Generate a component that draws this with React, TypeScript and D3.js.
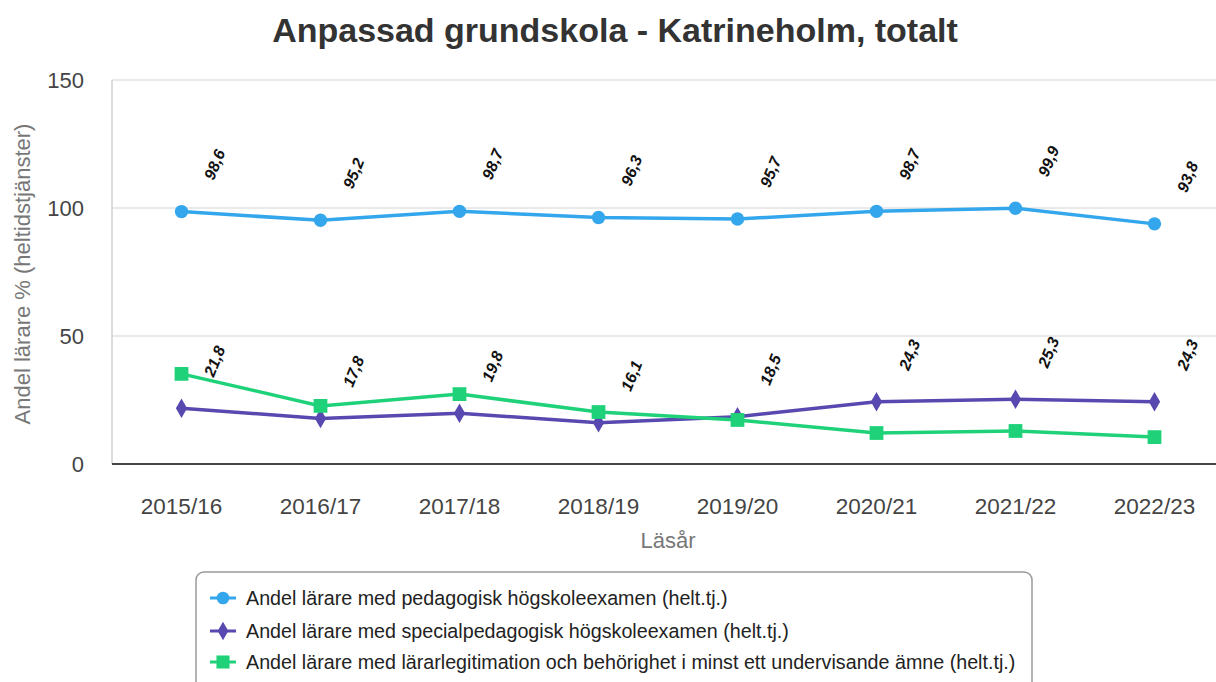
import React, { useEffect, useRef } from 'react';
import * as d3 from 'd3';

const years = ['2015/16', '2016/17', '2017/18', '2018/19', '2019/20', '2020/21', '2021/22', '2022/23'];
const pedagogisk = [98.6, 95.2, 98.7, 96.3, 95.7, 98.7, 99.9, 93.8];
const specialped = [21.8, 17.8, 19.8, 16.1, 18.5, 24.3, 25.3, 24.3];
const legitimation = [35.2, 22.7, 27.3, 20.3, 17.2, 12.1, 12.9, 10.5];
const yTicks = [0, 50, 100, 150];

const seriesNames = [
  'Andel lärare med pedagogisk högskoleexamen (helt.tj.)',
  'Andel lärare med specialpedagogisk högskoleexamen (helt.tj.)',
  'Andel lärare med lärarlegitimation och behörighet i minst ett undervisande ämne (helt.tj.)',
];

const font = '"Liberation Sans", Arial, sans-serif';

export default function App() {
  const ref = useRef<SVGSVGElement>(null);

  useEffect(() => {
    const width = 1216;
    const height = 682;
    const left = 112;
    const right = 1224;
    const top = 80;
    const bottom = 464;

    const series = [
      { name: seriesNames[0], values: pedagogisk, color: '#34a6ec', shape: d3.symbolCircle, size: 140, labels: true },
      { name: seriesNames[1], values: specialped, color: '#5849b0', shape: d3.symbolDiamond, size: 110, labels: true },
      { name: seriesNames[2], values: legitimation, color: '#1fd27a', shape: d3.symbolSquare, size: 190, labels: false },
    ];

    const svg = d3.select(ref.current);
    svg.selectAll('*').remove();
    svg.attr('width', width).attr('height', height);

    const x = d3.scalePoint<string>().domain(years).range([left, right]).padding(0.5);
    const y = d3.scaleLinear().domain([0, 150]).range([bottom, top]);

    // title
    svg
      .append('text')
      .attr('x', 615)
      .attr('y', 42)
      .attr('text-anchor', 'middle')
      .style('font-family', font)
      .style('font-weight', 'bold')
      .style('font-size', '34px')
      .style('fill', '#333')
      .text('Anpassad grundskola - Katrineholm, totalt');

    // grid
    svg
      .selectAll('line.grid')
      .data(yTicks.filter((t) => t > 0))
      .enter()
      .append('line')
      .attr('x1', left)
      .attr('x2', right)
      .attr('y1', (d) => y(d))
      .attr('y2', (d) => y(d))
      .style('stroke', '#e2e2e2')
      .style('stroke-width', 1.5);

    svg
      .append('line')
      .attr('x1', left)
      .attr('x2', left)
      .attr('y1', top)
      .attr('y2', bottom)
      .style('stroke', '#d0d0d0')
      .style('stroke-width', 1.5);

    svg
      .append('line')
      .attr('x1', left)
      .attr('x2', right)
      .attr('y1', bottom)
      .attr('y2', bottom)
      .style('stroke', '#444')
      .style('stroke-width', 2);

    // y ticks
    svg
      .selectAll('text.ytick')
      .data(yTicks)
      .enter()
      .append('text')
      .attr('x', 84)
      .attr('y', (d) => y(d) + 8)
      .attr('text-anchor', 'end')
      .style('font-family', font)
      .style('font-size', '22px')
      .style('fill', '#444')
      .text((d) => d);

    // x ticks
    svg
      .selectAll('text.xtick')
      .data(years)
      .enter()
      .append('text')
      .attr('x', (d) => x(d)!)
      .attr('y', 514)
      .attr('text-anchor', 'middle')
      .style('font-family', font)
      .style('font-size', '22.5px')
      .style('fill', '#444')
      .text((d) => d);

    svg
      .append('text')
      .attr('x', 668)
      .attr('y', 548)
      .attr('text-anchor', 'middle')
      .style('font-family', font)
      .style('font-size', '22px')
      .style('fill', '#777')
      .text('Läsår');

    svg
      .append('text')
      .attr('transform', `translate(30,${(top + bottom) / 2 + 2}) rotate(-90)`)
      .attr('text-anchor', 'middle')
      .style('font-family', font)
      .style('font-size', '22px')
      .style('fill', '#777')
      .text('Andel lärare % (heltidstjänster)');

    const line = d3
      .line<number>()
      .x((d, i) => x(years[i])!)
      .y((d) => y(d));

    series.forEach((s) => {
      const g = svg.append('g');
      g.append('path')
        .attr('d', line(s.values))
        .style('fill', 'none')
        .style('stroke', s.color)
        .style('stroke-width', 3.5);

      const sym = d3.symbol().type(s.shape).size(s.size);
      g.selectAll('path.pt')
        .data(s.values)
        .enter()
        .append('path')
        .attr('d', sym)
        .attr('transform', (d, i) => `translate(${x(years[i])},${y(d)})`)
        .style('fill', s.color);

      if (s.labels) {
        g.selectAll('text.lbl')
          .data(s.values)
          .enter()
          .append('text')
          .attr('transform', (d, i) => `translate(${x(years[i])! + 33},${y(d) - 47}) rotate(-68)`)
          .attr('text-anchor', 'middle')
          .attr('dy', '0.35em')
          .style('font-family', font)
          .style('font-weight', 'bold')
          .style('font-style', 'italic')
          .style('font-size', '16px')
          .style('fill', '#111')
          .text((d) => d3.format('.1f')(d).replace('.', ','));
      }
    });

    // legend
    svg
      .append('rect')
      .attr('x', 196)
      .attr('y', 572)
      .attr('width', 836)
      .attr('height', 130)
      .attr('rx', 8)
      .style('fill', 'white')
      .style('stroke', '#999')
      .style('stroke-width', 1.5);

    const legendY = [598, 631, 662];
    series.forEach((s, i) => {
      const lg = svg.append('g').attr('transform', `translate(0,${legendY[i]})`);
      lg.append('line')
        .attr('x1', 210)
        .attr('x2', 236)
        .style('stroke', s.color)
        .style('stroke-width', 3);
      lg.append('path')
        .attr('d', d3.symbol().type(s.shape).size(s.size * 0.9)())
        .attr('transform', 'translate(223,0)')
        .style('fill', s.color);
      lg.append('text')
        .attr('x', 246)
        .attr('dy', '0.35em')
        .style('font-family', font)
        .style('font-size', '19.7px')
        .style('fill', '#222')
        .text(s.name);
    });
  }, []);

  return <svg ref={ref} style={{ position: 'absolute', left: 0, top: 0 }} />;
}
